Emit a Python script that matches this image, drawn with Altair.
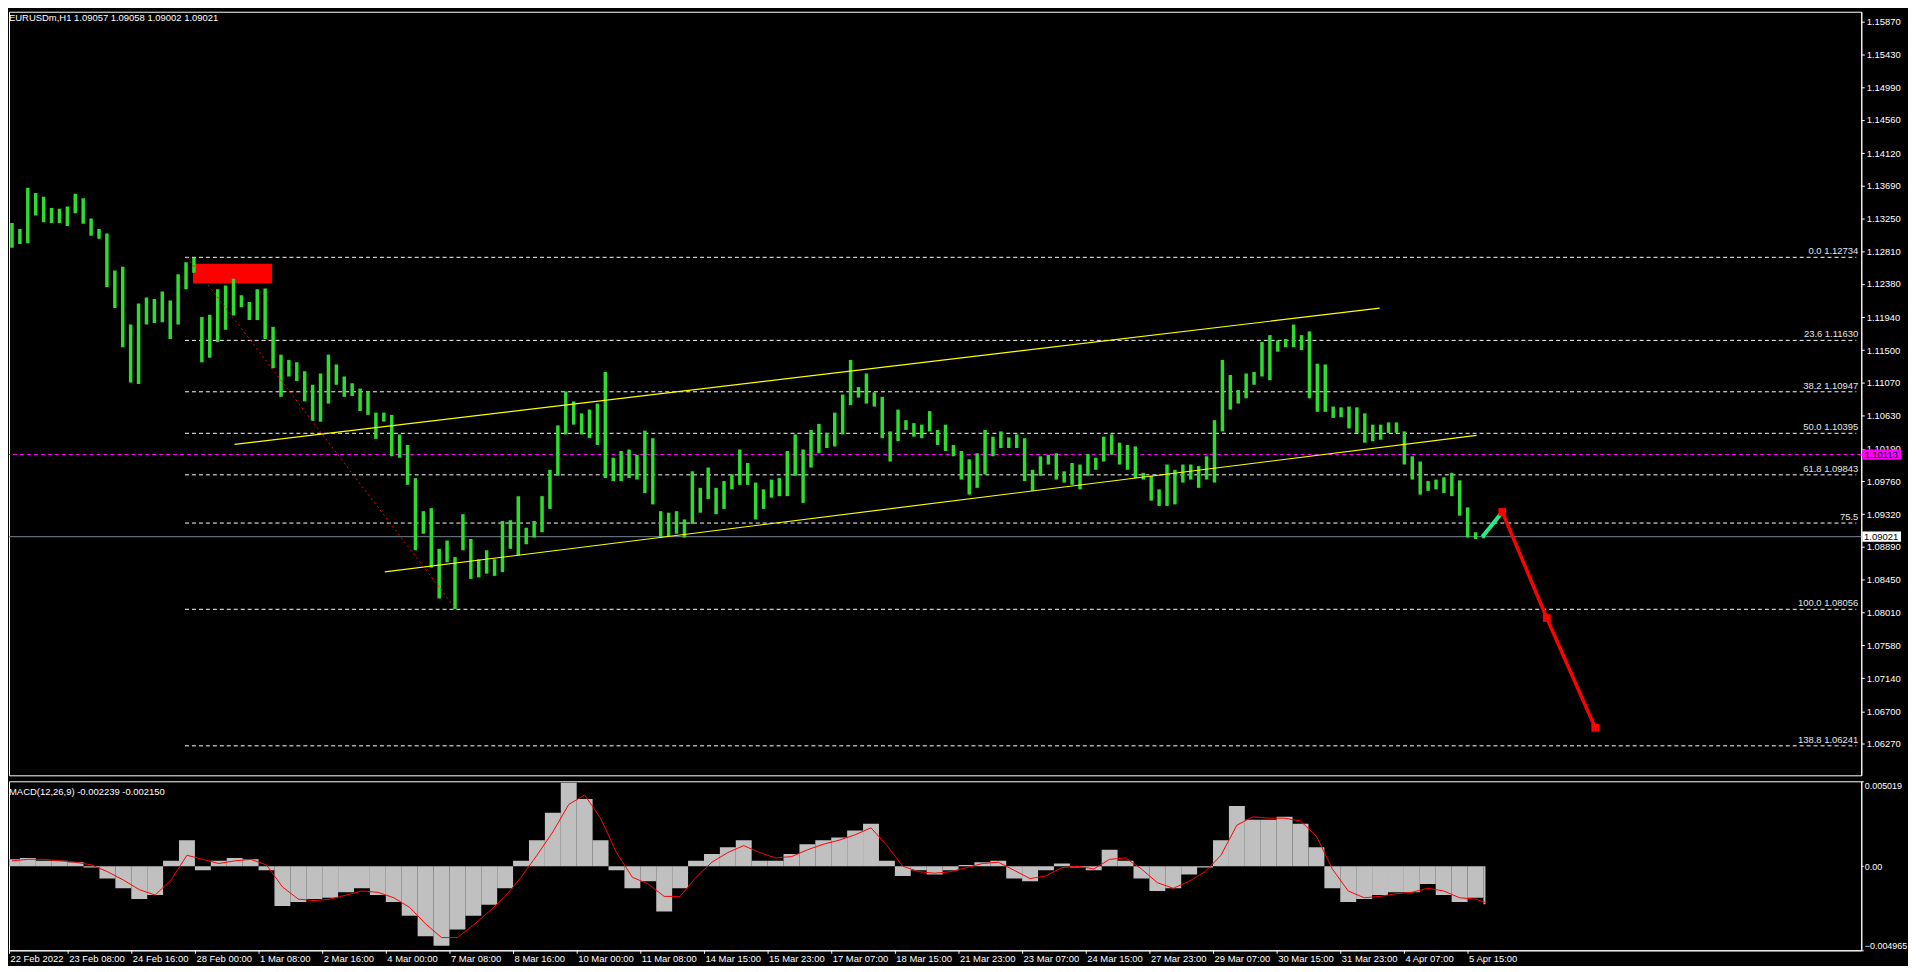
import json
import altair as alt
import pandas as pd

FONT = "Liberation Sans"

title_text = "EURUSDm,H1  1.09057 1.09058 1.09002 1.09021"
macd_text = "MACD(12,26,9) -0.002239 -0.002150"

# H1 bars read in blocks of 4 hours: block high / block low
bar_high = [
    1.1319, 1.1311, 1.1366, 1.1359, 1.1354, 1.1339, 1.1338, 1.1341, 1.1358, 1.1352,
    1.1325, 1.1311, 1.1305, 1.1256, 1.1261, 1.1184, 1.1212, 1.1220, 1.1218, 1.1228,
    1.1216, 1.1251, 1.1267, 1.1273, 1.1194, 1.1197, 1.1231, 1.1236, 1.1245, 1.1223,
    1.1214, 1.1231, 1.1232, 1.1181, 1.1144, 1.1137, 1.1134, 1.1122, 1.1104, 1.1119,
    1.1144, 1.1131, 1.1115, 1.1106, 1.1099, 1.1095, 1.1067, 1.1067, 1.1064, 1.1038,
    1.1024, 1.0980, 1.0936, 1.0940, 1.0886, 1.0897, 1.0875, 1.0932, 1.0899, 1.0872,
    1.0884, 1.0872, 1.0923, 1.0924, 1.0956, 1.0914, 1.0923, 1.0956, 1.0991, 1.1050,
    1.1095, 1.1082, 1.1066, 1.1071, 1.1079, 1.1121, 1.1007, 1.1016, 1.1018, 1.1011,
    1.1043, 1.1033, 1.0936, 1.0934, 1.0936, 1.0925, 1.0989, 1.0967, 1.0994, 1.0967,
    1.0976, 1.0985, 1.1018, 1.1000, 1.0974, 1.0965, 1.0978, 1.0980, 1.1016, 1.1038,
    1.1018, 1.1044, 1.1052, 1.1040, 1.1067, 1.1091, 1.1137, 1.1101, 1.1119, 1.1094,
    1.1088, 1.1042, 1.1071, 1.1057, 1.1053, 1.1051, 1.1069, 1.1044, 1.1051, 1.1024,
    1.1016, 1.1005, 1.1013, 1.1044, 1.1035, 1.1042, 1.1034, 1.1038, 1.1033, 1.0991,
    1.1009, 1.1011, 1.1013, 1.0989, 1.1000, 1.0998, 1.1012, 1.1007, 1.1035, 1.1038,
    1.1027, 1.1024, 1.1022, 1.0987, 1.0983, 1.0965, 1.0998, 1.0991, 1.0998, 1.0998,
    1.0996, 1.1009, 1.1057, 1.1137, 1.1117, 1.1097, 1.1119, 1.1121, 1.1161, 1.1170,
    1.1163, 1.1165, 1.1184, 1.1170, 1.1175, 1.1132, 1.1131, 1.1075, 1.1074, 1.1075,
    1.1074, 1.1066, 1.1051, 1.1051, 1.1054, 1.1054, 1.1042, 1.1009, 1.1002, 1.0976,
    1.0978, 1.0981, 1.0987, 1.0977, 1.0941, 1.0908, 1.0906,
]
bar_low = [
    1.1286, 1.1291, 1.1292, 1.1329, 1.1320, 1.1319, 1.1319, 1.1315, 1.1332, 1.1318,
    1.1302, 1.1298, 1.1234, 1.1206, 1.1154, 1.1107, 1.1105, 1.1184, 1.1186, 1.1187,
    1.1165, 1.1184, 1.1231, 1.1253, 1.1134, 1.1140, 1.1161, 1.1177, 1.1196, 1.1207,
    1.1190, 1.1190, 1.1165, 1.1126, 1.1088, 1.1115, 1.1109, 1.1082, 1.1056, 1.1055,
    1.1079, 1.1104, 1.1088, 1.1089, 1.1069, 1.1064, 1.1032, 1.1055, 1.1009, 1.1007,
    1.0971, 1.0884, 1.0906, 1.0861, 1.0820, 1.0868, 1.0806, 1.0884, 1.0846, 1.0848,
    1.0853, 1.0850, 1.0855, 1.0886, 1.0877, 1.0892, 1.0901, 1.0908, 1.0939, 1.0983,
    1.1038, 1.1051, 1.1038, 1.1033, 1.1024, 1.0980, 1.0976, 1.0976, 1.0980, 1.0978,
    1.0960, 1.0945, 1.0901, 1.0903, 1.0906, 1.0901, 1.0919, 1.0934, 1.0952, 1.0932,
    1.0939, 1.0965, 1.0971, 1.0971, 1.0925, 1.0939, 1.0954, 1.0956, 1.0956, 1.0983,
    1.0947, 1.0994, 1.1013, 1.1020, 1.1022, 1.1038, 1.1077, 1.1087, 1.1079, 1.1075,
    1.1033, 1.1002, 1.1029, 1.1044, 1.1035, 1.1033, 1.1042, 1.1024, 1.1016, 1.1009,
    1.0978, 1.0958, 1.0967, 1.0985, 1.1009, 1.1020, 1.1020, 1.1020, 1.0976, 1.0963,
    1.0983, 1.0998, 1.0978, 1.0974, 1.0971, 1.0965, 1.0983, 1.0991, 1.1002, 1.1011,
    1.0998, 1.0991, 1.0980, 1.0978, 1.0950, 1.0943, 1.0943, 1.0945, 1.0974, 1.0978,
    1.0967, 1.0978, 1.0974, 1.1042, 1.1071, 1.1079, 1.1086, 1.1104, 1.1115, 1.1110,
    1.1148, 1.1154, 1.1154, 1.1150, 1.1086, 1.1068, 1.1068, 1.1060, 1.1061, 1.1046,
    1.1040, 1.1027, 1.1029, 1.1031, 1.1040, 1.1040, 1.0998, 1.0978, 1.0958, 1.0963,
    1.0965, 1.0960, 1.0956, 1.0930, 1.0901, 1.0899, 1.0900,
]

# MACD (12,26,9) read in blocks of 8 hours
macd_main = [
    0.00041, 0.00049, 0.00032, 0.00032, 0.00024, -0.00008, -0.00073, -0.00130, -0.00194, -0.00170,
    0.00032, 0.00154, -0.00024, 0.00032, 0.00049, 0.00041, -0.00024, -0.00235, -0.00211, -0.00194,
    -0.00186, -0.00154, -0.00130, -0.00170, -0.00211, -0.00292, -0.00413, -0.00470, -0.00373, -0.00292,
    -0.00227, -0.00130, 0.00032, 0.00154, 0.00316, 0.00494, 0.00397, 0.00154, -0.00024, -0.00130,
    -0.00089, -0.00267, -0.00130, 0.00032, 0.00073, 0.00113, 0.00154, 0.00032, 0.00032, 0.00073,
    0.00130, 0.00154, 0.00170, 0.00211, 0.00251, 0.00032, -0.00057, -0.00024, -0.00049, -0.00024,
    0.00008, 0.00024, 0.00032, -0.00073, -0.00089, -0.00024, 0.00016, -0.00008, -0.00024, 0.00097,
    0.00032, -0.00073, -0.00146, -0.00130, -0.00049, -0.00008, 0.00154, 0.00356, 0.00275, 0.00275,
    0.00292, 0.00251, 0.00113, -0.00130, -0.00211, -0.00194, -0.00170, -0.00154, -0.00154, -0.00105,
    -0.00170, -0.00211, -0.00186, -0.00224,
]
macd_signal = [
    0.00032, 0.00041, 0.00041, 0.00032, 0.00024, 0.00008, -0.00032, -0.00081, -0.00138, -0.00170,
    -0.00081, 0.00065, 0.00041, 0.00016, 0.00032, 0.00041, 0.00008, -0.00122, -0.00194, -0.00203,
    -0.00194, -0.00170, -0.00146, -0.00154, -0.00186, -0.00243, -0.00340, -0.00421, -0.00421, -0.00348,
    -0.00267, -0.00178, -0.00065, 0.00065, 0.00203, 0.00365, 0.00421, 0.00284, 0.00081, -0.00065,
    -0.00105, -0.00178, -0.00178, -0.00065, 0.00024, 0.00081, 0.00122, 0.00081, 0.00049, 0.00057,
    0.00097, 0.00130, 0.00154, 0.00186, 0.00227, 0.00122, 0.00000, -0.00032, -0.00041, -0.00032,
    -0.00008, 0.00016, 0.00024, -0.00024, -0.00073, -0.00057, -0.00008, 0.00000, -0.00016, 0.00041,
    0.00049, -0.00016, -0.00097, -0.00130, -0.00089, -0.00032, 0.00065, 0.00243, 0.00292, 0.00284,
    0.00284, 0.00267, 0.00178, -0.00016, -0.00146, -0.00186, -0.00178, -0.00162, -0.00154, -0.00130,
    -0.00146, -0.00186, -0.00194, -0.00215,
]

price_ticks = [1.15870, 1.15430, 1.14990, 1.14560, 1.14120, 1.13690, 1.13250, 1.12810,
               1.12380, 1.11940, 1.11500, 1.11070, 1.10630, 1.10190, 1.09760, 1.09320,
               1.08890, 1.08450, 1.08010, 1.07580, 1.07140, 1.06700, 1.06270, 1.05830]
macd_ticks = [0.005019, 0.0, -0.004965]

time_labels = ["22 Feb 2022", "23 Feb 08:00", "24 Feb 16:00", "28 Feb 00:00", "1 Mar 08:00",
               "2 Mar 16:00", "4 Mar 00:00", "7 Mar 08:00", "8 Mar 16:00", "10 Mar 00:00",
               "11 Mar 08:00", "14 Mar 15:00", "15 Mar 23:00", "17 Mar 07:00", "18 Mar 15:00",
               "21 Mar 23:00", "23 Mar 07:00", "24 Mar 15:00", "27 Mar 23:00", "29 Mar 07:00",
               "30 Mar 15:00", "31 Mar 23:00", "4 Apr 07:00", "5 Apr 15:00"]

fib_labels = ["0.0 1.12734", "23.6 1.11630", "38.2 1.10947", "50.0 1.10395",
              "61.8 1.09843", "75.5", "100.0 1.08056", "138.8 1.06241"]
fib_prices = [1.12734, 1.11630, 1.10947, 1.10395, 1.09843, 1.09202, 1.08056, 1.06241]
fib_start_bar = 89

fib_trend_bars = [90, 226]
fib_trend_prices = [1.12734, 1.08056]

channel_upper_bars = [114, 693]
channel_upper_prices = [1.10248, 1.12058]
channel_lower_bars = [190, 742]
channel_lower_prices = [1.08553, 1.10367]

zone_bars = [93, 133]
zone_prices = [1.1239, 1.1265]

proj_up_bars = [745, 755]
proj_up_prices = [1.0902, 1.0935]
proj_down_bars = [755, 777.5, 802]
proj_down_prices = [1.0935, 1.0794, 1.0648]

pending_price = 1.10113
bid_price = 1.09021

# ---------------------------------------------------------------- scales
X_MIN, X_MAX = 2.5, 934
W = 1863
H_MAIN = 768
H_MACD = 170
xscale = alt.Scale(domain=[X_MIN, X_MAX], nice=False, zero=False)
yscale = alt.Scale(domain=[1.05849, 1.15998], nice=False, zero=False)
mscale = alt.Scale(domain=[-0.004965, 0.005019], nice=False, zero=False)

price_axis = alt.Axis(orient="right", values=price_ticks, format=".5f", title=None, grid=False,
                      domainColor="#FFFFFF", tickColor="#FFFFFF", tickSize=3, labelPadding=2,
                      labelColor="#FFFFFF", labelFont=FONT, labelFontSize=9.5,
                      labelOverlap=False, labelBound=False, labelFlush=False)

XM = alt.X("k:Q", scale=xscale, axis=None)
YM = alt.Y("p:Q", scale=yscale, axis=price_axis)

n = min(len(bar_high), len(bar_low))
bars_df = pd.DataFrame({"k": [4 * i + 1.5 for i in range(n)],
                        "p": bar_low[:n], "p2": bar_high[:n]})

fib_df = pd.DataFrame({"k": [fib_start_bar] * len(fib_prices), "k2": [X_MAX] * len(fib_prices),
                       "p": fib_prices, "t": fib_labels})

fib_rules = alt.Chart(fib_df).mark_rule(color="#FFFFFF", strokeWidth=1, strokeDash=[4, 3]).encode(
    x=XM, x2=alt.X2("k2:Q"), y=YM)
fib_text = alt.Chart(fib_df).mark_text(align="right", baseline="bottom", dy=-1, color="#E6E6E6",
                                       font=FONT, fontSize=9.5).encode(
    x=alt.value(1860), y=YM, text="t:N")

pend_df = pd.DataFrame({"p": [pending_price]})
pend_line = alt.Chart(pend_df).mark_rule(color="#FF00FF", strokeWidth=1, strokeDash=[4, 3]).encode(y=YM)
bid_df = pd.DataFrame({"p": [bid_price]})
bid_line = alt.Chart(bid_df).mark_rule(color="#778899", strokeWidth=1).encode(y=YM)

zone_df = pd.DataFrame({"k": [zone_bars[0]], "k2": [zone_bars[1]],
                        "p": [zone_prices[0]], "p2": [zone_prices[1]]})
zone = alt.Chart(zone_df).mark_rect(color="#FF0000").encode(
    x=XM, x2=alt.X2("k2:Q"), y=YM, y2=alt.Y2("p2:Q"))

bars = alt.Chart(bars_df).mark_bar(color="#2EDB2E", size=3.5, clip=True).encode(
    x=XM, y=YM, y2=alt.Y2("p2:Q"))

def seg(bars_list, prices_list, name):
    return pd.DataFrame({"k": bars_list, "p": prices_list, "id": [name] * len(bars_list)})

chan_df = pd.concat([seg(channel_upper_bars, channel_upper_prices, "u"),
                     seg(channel_lower_bars, channel_lower_prices, "l")])
channel = alt.Chart(chan_df).mark_line(color="#FFFF00", strokeWidth=1.2).encode(
    x=XM, y=YM, detail="id:N")

trend = alt.Chart(seg(fib_trend_bars, fib_trend_prices, "t")).mark_line(
    color="#FF0000", strokeWidth=1, strokeDash=[2, 3]).encode(x=XM, y=YM)

proj_up = alt.Chart(seg(proj_up_bars, proj_up_prices, "g")).mark_line(
    color="#22EE88", strokeWidth=4).encode(x=XM, y=YM)
down_df = seg(proj_down_bars, proj_down_prices, "r")
proj_down = alt.Chart(down_df).mark_line(color="#FF0000", strokeWidth=3.5).encode(x=XM, y=YM)
proj_pts = alt.Chart(down_df).mark_square(color="#FF0000", size=60, opacity=1, filled=True).encode(x=XM, y=YM)

HALF = 0.00068
tag_df = pd.DataFrame({"p": [pending_price, bid_price],
                       "t": [f"{pending_price:.5f}", f"{bid_price:.5f}"],
                       "c": ["#FF00FF", "#FFFFFF"]})
tag_df["top"] = tag_df["p"] + HALF
tag_df["bot"] = tag_df["p"] - HALF
tag_box = alt.Chart(tag_df).mark_rect().encode(
    x=alt.value(1864), x2=alt.value(1903),
    y=alt.Y("top:Q", scale=yscale, axis=price_axis), y2=alt.Y2("bot:Q"),
    color=alt.Color("c:N", scale=None))
tag_txt = alt.Chart(tag_df).mark_text(align="center", baseline="middle", color="#000000",
                                      font=FONT, fontSize=9.5).encode(
    x=alt.value(1883), y=YM, text="t:N")

title = alt.Chart(pd.DataFrame({"t": [title_text]})).mark_text(
    align="left", baseline="top", color="#FFFFFF", font=FONT, fontSize=9.5).encode(
    x=alt.value(0), y=alt.value(1), text="t:N")

main = alt.layer(fib_rules, pend_line, bid_line, zone, bars, channel, trend,
                 proj_up, proj_down, proj_pts, fib_text, tag_box, tag_txt, title).properties(
    width=W, height=H_MAIN)

# ---------------------------------------------------------------- MACD
LAST = 745
m = min(len(macd_main), len(macd_signal))
hist_df = pd.DataFrame({"k": [8 * j for j in range(m)],
                        "k2": [min(8 * j + 8, LAST) for j in range(m)],
                        "v": macd_main[:m], "zero": [0.0] * m})
sig_df = pd.DataFrame({"k": [min(8 * j + 4, LAST) for j in range(m)], "v": macd_signal[:m]})

time_values = [max(32 * i, X_MIN) for i in range(len(time_labels))]
time_axis = alt.Axis(values=time_values, title=None, grid=False,
                     labelExpr=json.dumps(time_labels) + "[round(datum.value / 32)]",
                     labelAlign="left", labelOffset=1, labelPadding=0, tickSize=3,
                     domainColor="#FFFFFF", tickColor="#FFFFFF", labelColor="#FFFFFF",
                     labelFont=FONT, labelFontSize=9.5, labelOverlap=False,
                     labelBound=False, labelFlush=False)
macd_axis = alt.Axis(orient="right", values=macd_ticks, title=None, grid=False,
                     labelExpr="datum.value == 0 ? '0.00' : format(datum.value, '.6f')",
                     domainColor="#FFFFFF", tickColor="#FFFFFF", tickSize=2, labelPadding=1,
                     labelColor="#FFFFFF", labelFont=FONT, labelFontSize=9,
                     labelOverlap=False, labelFlush=True)

XB = alt.X("k:Q", scale=xscale, axis=time_axis)
YB = alt.Y("v:Q", scale=mscale, axis=macd_axis)

hist = alt.Chart(hist_df).mark_bar(color="#C0C0C0", clip=True).encode(
    x=XB, x2=alt.X2("k2:Q"), y=YB, y2=alt.Y2("zero:Q"))
sig = alt.Chart(sig_df).mark_line(color="#FF0000", strokeWidth=1, clip=True).encode(x=XB, y=YB)
macd_title = alt.Chart(pd.DataFrame({"t": [macd_text]})).mark_text(
    align="left", baseline="top", color="#FFFFFF", font=FONT, fontSize=9.5).encode(
    x=alt.value(0), y=alt.value(6), text="t:N")

macd = alt.layer(hist, sig, macd_title).properties(width=W, height=H_MACD)

chart = alt.vconcat(main, macd, spacing=4).properties(
    background="#000000", padding=0
).configure(font=FONT).configure_view(stroke="#FFFFFF", strokeWidth=1)

chart.save("out.html", embed_options={"renderer": "svg", "actions": False})
